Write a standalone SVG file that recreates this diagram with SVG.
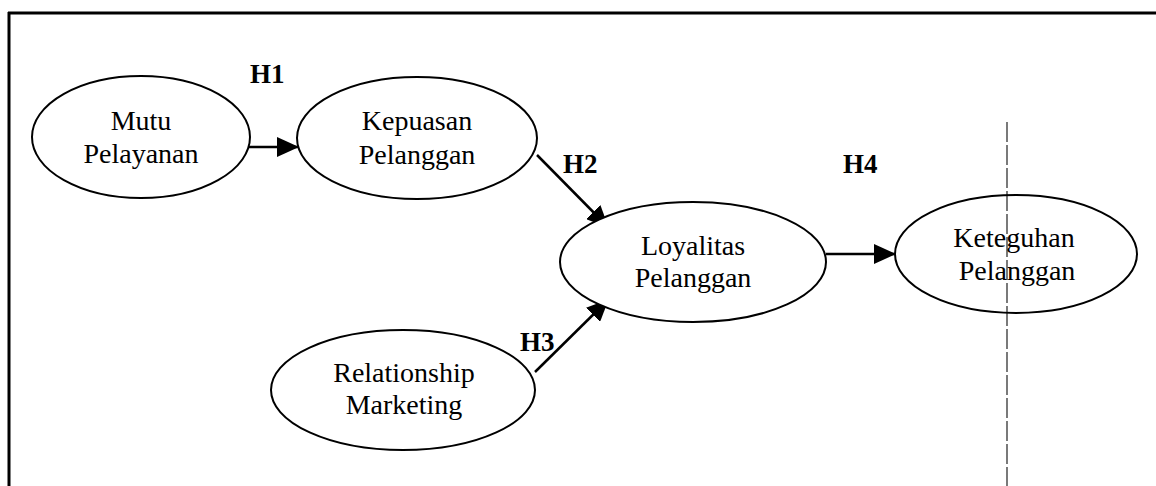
<svg xmlns="http://www.w3.org/2000/svg" width="1156" height="486" viewBox="0 0 1156 486">
<style>
.node ellipse{fill:#fff;stroke:#000;stroke-width:2}
.lbl{font-family:"Liberation Serif","Times New Roman",serif;font-size:28px;fill:#000;text-anchor:middle}
.hyp{font-family:"Liberation Serif","Times New Roman",serif;font-size:27px;font-weight:bold;fill:#000}
.conn line{stroke:#000;stroke-width:2.5;marker-end:url(#ah)}
</style>
<defs>
<marker id="ah" markerUnits="userSpaceOnUse" markerWidth="22" markerHeight="20" refX="21" refY="10" orient="auto">
<path d="M0,0 L22,10 L0,20 z" fill="#000"/>
</marker>
</defs>
<rect width="1156" height="486" fill="#fff"/>
<g id="frame">
<line x1="8" y1="13" x2="1156" y2="13" stroke="#000" stroke-width="3"/>
<line x1="9" y1="12" x2="9" y2="486" stroke="#000" stroke-width="3"/>
<line x1="1007" y1="122" x2="1007" y2="486" stroke="#222" stroke-width="1.2" stroke-dasharray="20 3"/>
</g>
<g id="connectors" class="conn">
<line x1="249" y1="147" x2="298" y2="147"/>
<line x1="537" y1="155" x2="608" y2="227"/>
<line x1="535" y1="372" x2="608" y2="300"/>
<line x1="826" y1="254" x2="895" y2="254"/>
</g>
<g id="mutu" class="node">
<ellipse cx="141" cy="137" rx="109" ry="61"/>
<text class="lbl" x="141" y="130">Mutu</text>
<text class="lbl" x="141" y="163">Pelayanan</text>
</g>
<g id="kepuasan" class="node">
<ellipse cx="417" cy="138" rx="120" ry="61"/>
<text class="lbl" x="417" y="130">Kepuasan</text>
<text class="lbl" x="417" y="164">Pelanggan</text>
</g>
<g id="loyalitas" class="node">
<ellipse cx="693" cy="262" rx="133" ry="60"/>
<text class="lbl" x="693" y="255">Loyalitas</text>
<text class="lbl" x="693" y="287">Pelanggan</text>
</g>
<g id="keteguhan" class="node">
<ellipse cx="1016" cy="254" rx="121" ry="59" style="fill:none"/>
<text class="lbl" x="1014" y="247">Keteguhan</text>
<text class="lbl" x="1017" y="280">Pelanggan</text>
</g>
<g id="relationship" class="node">
<ellipse cx="403" cy="390" rx="132" ry="60"/>
<text class="lbl" x="404" y="382">Relationship</text>
<text class="lbl" x="404" y="414">Marketing</text>
</g>
<g id="labels">
<text class="hyp" x="250" y="83">H1</text>
<text class="hyp" x="563" y="173">H2</text>
<text class="hyp" x="520" y="351">H3</text>
<text class="hyp" x="843" y="173">H4</text>
</g>
</svg>
